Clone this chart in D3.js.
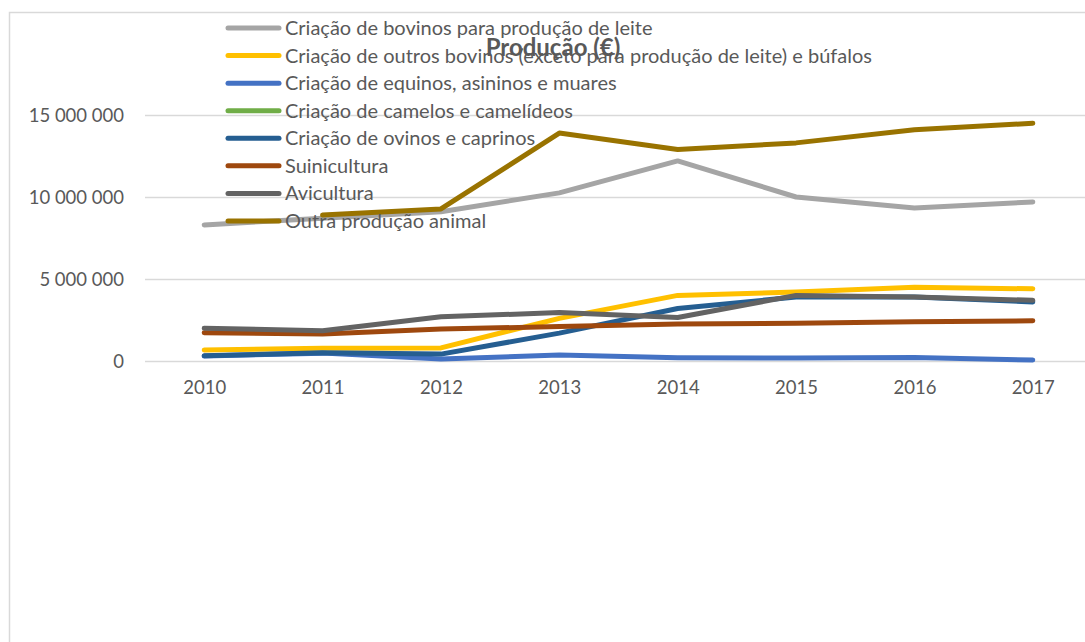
<!DOCTYPE html>
<html>
<head>
<meta charset="utf-8">
<script src="https://cdn.jsdelivr.net/npm/d3@7"></script>
<style>
  html, body { margin: 0; padding: 0; background: #fff; }
  svg { display: block; }
  text { font-family: Lato, "Open Sans", sans-serif; fill: #595959; }
</style>
</head>
<body>
<svg id="chart" width="1085" height="642"></svg>
<script>
const years = ["2010", "2011", "2012", "2013", "2014", "2015", "2016", "2017"];
const yTicks = [0, 5000000, 10000000, 15000000];
const title = "Produção (€)";

const seriesNames = [
  "Criação de bovinos para produção de leite",
  "Criação de outros bovinos (exceto para produção de leite) e búfalos",
  "Criação de equinos, asininos e muares",
  "Criação de camelos e camelídeos",
  "Criação de ovinos e caprinos",
  "Suinicultura",
  "Avicultura",
  "Outra produção animal"
];
const seriesColors = ["#A5A5A5", "#FFC000", "#4472C4", "#70AD47", "#255E91", "#9E480E", "#636363", "#997300"];

const bovinosLeite   = [8300000, 8700000, 9100000, 10250000, 12200000, 10000000, 9330000, 9700000];
const outrosBovinos  = [670000, 780000, 800000, 2600000, 4000000, 4200000, 4500000, 4400000];
const equinos        = [300000, 480000, 120000, 370000, 200000, 180000, 220000, 60000];
const camelos        = [null, null, null, null, null, null, null, null];
const ovinos         = [320000, 500000, 420000, 1700000, 3200000, 3900000, 3900000, 3600000];
const suinicultura   = [1720000, 1650000, 1950000, 2100000, 2250000, 2300000, 2400000, 2450000];
const avicultura     = [2000000, 1850000, 2700000, 2950000, 2650000, 4000000, 3900000, 3700000];
const outraProducao  = [null, 8900000, 9270000, 13900000, 12900000, 13300000, 14100000, 14500000];

const seriesValues = [bovinosLeite, outrosBovinos, equinos, camelos, ovinos, suinicultura, avicultura, outraProducao];

const svg = d3.select("#chart");

// chart border
svg.append("path")
  .attr("d", "M9.5,642 L9.5,12.5 L1085,12.5")
  .attr("fill", "none").attr("stroke", "#d9d9d9").attr("stroke-width", 1.5);

const x = d3.scalePoint().domain(years).range([145, 1092]).padding(0.5);
const y = d3.scaleLinear().domain([0, 15000000]).range([361, 115]);

const fmt = v => d3.format(",")(v).replace(/,/g, " ");

// gridlines
svg.append("g").selectAll("line").data(yTicks).join("line")
  .attr("x1", 145).attr("x2", 1092)
  .attr("y1", d => Math.round(y(d)) + 0.5).attr("y2", d => Math.round(y(d)) + 0.5)
  .attr("stroke", "#d9d9d9").attr("stroke-width", 1.3);

// y axis labels
const yAxis = d3.axisLeft(y).tickValues(yTicks).tickFormat(fmt).tickSize(0).tickPadding(0);
const gy = svg.append("g").attr("transform", "translate(124,0)").call(yAxis);
gy.select(".domain").remove();
gy.selectAll("text").attr("font-size", 18.5).attr("font-family", "Lato, sans-serif").attr("fill", "#595959").attr("dy", "0.35em");

// x axis labels
const xAxis = d3.axisBottom(x).tickSize(0).tickPadding(0);
const gx = svg.append("g").attr("transform", "translate(0,388)").call(xAxis);
gx.select(".domain").remove();
gx.selectAll("text").attr("font-size", 18.5).attr("font-family", "Lato, sans-serif").attr("fill", "#595959").attr("dy", "0.35em");

// lines
const line = d3.line()
  .defined(d => d.v !== null)
  .x(d => x(d.year))
  .y(d => y(d.v));

seriesValues.forEach((vals, i) => {
  const pts = years.map((yr, j) => ({ year: yr, v: vals[j] }));
  if (pts.every(p => p.v === null)) return;
  svg.append("path")
    .datum(pts)
    .attr("d", line)
    .attr("fill", "none")
    .attr("stroke", seriesColors[i])
    .attr("stroke-width", 5)
    .attr("stroke-linecap", "round")
    .attr("stroke-linejoin", "round");
});

// legend
const leg = svg.append("g");
const rowY = d3.scaleLinear().domain([0, 7]).range([28, 221]);
seriesNames.forEach((name, i) => {
  const yy = rowY(i);
  leg.append("line")
    .attr("x1", 228).attr("x2", 279)
    .attr("y1", yy).attr("y2", yy)
    .attr("stroke", seriesColors[i]).attr("stroke-width", 5)
    .attr("stroke-linecap", "round");
  leg.append("text")
    .attr("x", 285).attr("y", yy).attr("dy", "0.35em")
    .attr("font-size", 20)
    .text(name);
});

// title
svg.append("text")
  .attr("x", 553).attr("y", 48).attr("dy", "0.35em")
  .attr("text-anchor", "middle")
  .attr("font-size", 24).attr("font-weight", "bold")
  .text(title);
</script>
</body>
</html>
